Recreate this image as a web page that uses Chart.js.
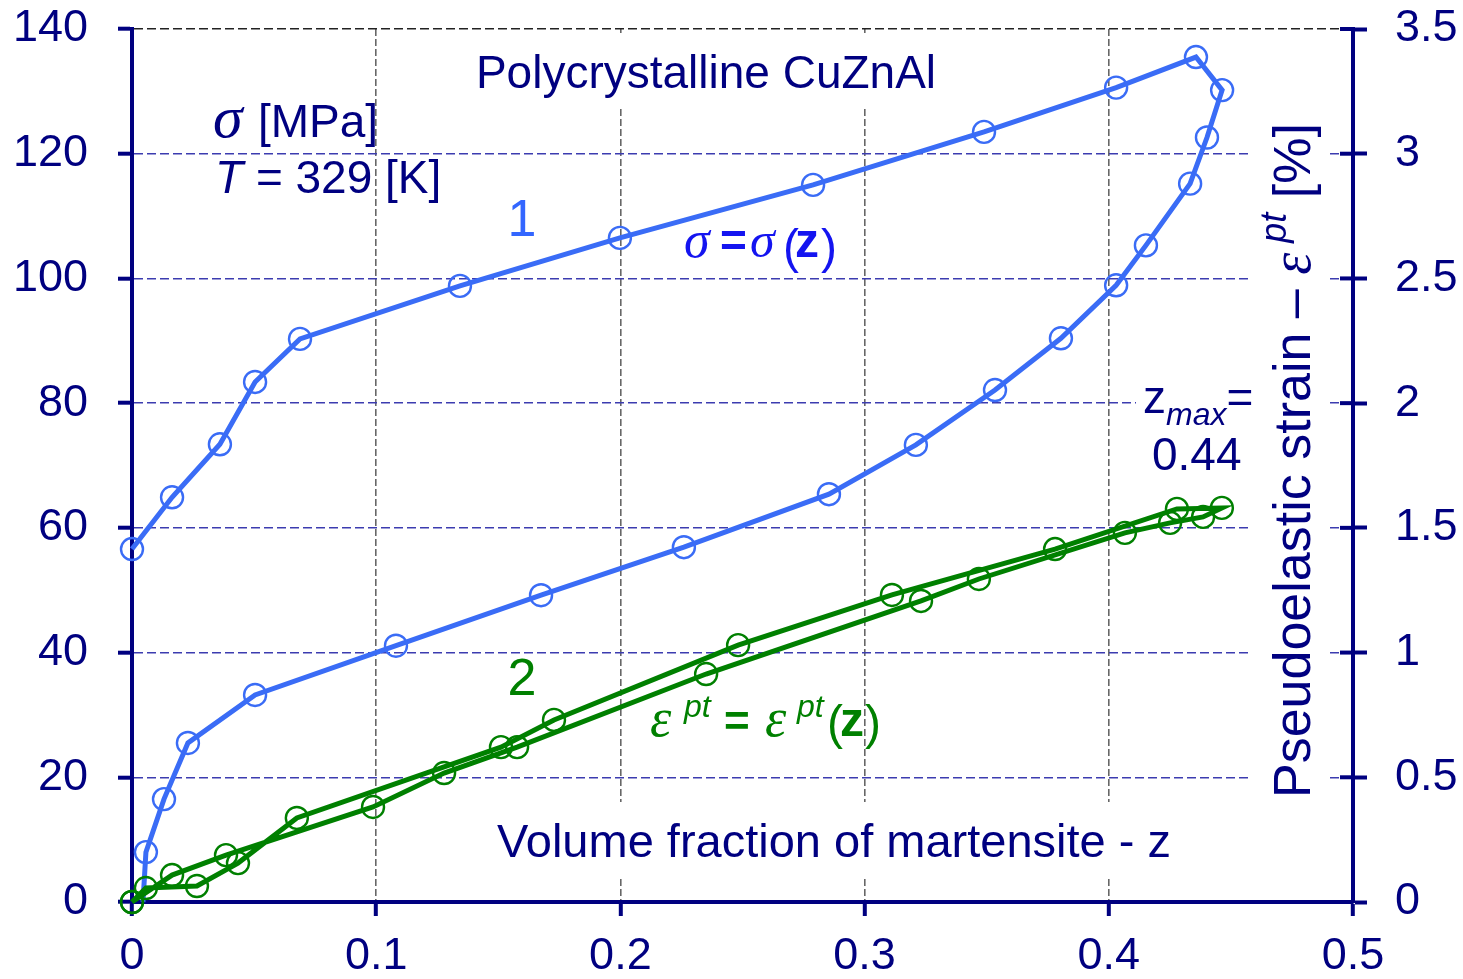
<!DOCTYPE html>
<html>
<head>
<meta charset="utf-8">
<title>Polycrystalline CuZnAl</title>
<script src="https://cdn.jsdelivr.net/npm/chart.js@4.4.0/dist/chart.umd.min.js"></script>
<style>
  html, body { margin: 0; padding: 0; background: #fff; }
  #wrap { width: 1463px; height: 979px; }
</style>
</head>
<body>
<div id="wrap"><canvas id="chart" width="1463" height="979"></canvas></div>
<script>
// curve 1: stress vs volume fraction of martensite (loading, then unloading)
const stressZ = [0, 0.0164, 0.036, 0.0504, 0.0688, 0.1343, 0.1998, 0.2789, 0.3489, 0.403, 0.4357, 0.4464,
                 0.4402, 0.4333, 0.4152, 0.403, 0.3804, 0.3534, 0.321, 0.2854, 0.226, 0.1675, 0.1081,
                 0.0504, 0.0229, 0.0131, 0.0057, 0.0045];
const stressMPa = [56.6, 64.9, 73.4, 83.4, 90.3, 98.8, 106.5, 115.0, 123.5, 130.6, 135.5, 130.2,
                   122.6, 115.2, 105.3, 98.9, 90.4, 82.1, 73.3, 65.4, 56.9, 49.2, 41.1,
                   33.2, 25.5, 16.5, 8.0, 0];

// curve 2: pseudoelastic strain [%] vs volume fraction (closed loop from the origin)
const strainZ = [0, 0.0164, 0.0385, 0.0987, 0.1278, 0.1577, 0.2351, 0.3231, 0.3468, 0.4066, 0.4251, 0.4386, 0.4463,
                 0.4279, 0.378, 0.3112, 0.2482, 0.1728, 0.1511, 0.0675, 0.0434, 0.0266, 0.0057, 0];
const strainPct = [0, 0.108, 0.188, 0.381, 0.517, 0.621, 0.914, 1.207, 1.295, 1.48, 1.52, 1.544, 1.58,
                   1.576, 1.415, 1.231, 1.03, 0.73, 0.621, 0.337, 0.156, 0.064, 0.056, 0];

const zTicks = [0, 0.1, 0.2, 0.3, 0.4, 0.5];
const zTickLabels = ['0', '0.1', '0.2', '0.3', '0.4', '0.5'];
const stressTicks = [0, 20, 40, 60, 80, 100, 120, 140];
const strainTicks = [0, 0.5, 1, 1.5, 2, 2.5, 3, 3.5];
const strainTickLabels = ['0', '0.5', '1', '1.5', '2', '2.5', '3', '3.5'];

const NAVY = '#000080';
const BLUE = '#3a6cf6';
const GREEN = '#008000';
const SANS = "'Liberation Sans', Arial, sans-serif";
const SERIF = "'Liberation Serif', 'Times New Roman', serif";

Chart.defaults.font.family = SANS;

function toPoints(xs, ys) {
    return xs.map((x, i) => ({ x: x, y: ys[i] }));
}

// text pieces; each piece either has its own x or follows the previous one
function drawRuns(ctx, x, y, parts) {
    parts.forEach(p => {
        if (p.x !== undefined) x = p.x;
        ctx.font = p.font;
        ctx.fillStyle = p.color;
        ctx.fillText(p.text, x, y + (p.dy || 0));
        x += ctx.measureText(p.text).width;
    });
    return x;
}

// vertical axes: fixed width, and no extra room above/below for the end labels
function fixWidth(w) {
    return s => {
        s.width = w;
        s.paddingTop = 0;
        s.paddingBottom = 0;
    };
}

const labelsPlugin = {
    id: 'labels',
    beforeDatasetsDraw(chart) {
        const ctx = chart.ctx;
        ctx.save();
        ctx.textBaseline = 'alphabetic';
        ctx.textAlign = 'left';

        // white boxes behind the framed captions
        ctx.fillStyle = '#fff';
        ctx.fillRect(462, 33, 488, 76);
        ctx.fillRect(490, 802, 690, 75);
        ctx.fillRect(1136, 384, 113, 94);
        ctx.fillRect(1249, 40, 78, 850);

        ctx.textAlign = 'center';
        ctx.font = '46px ' + SANS;
        ctx.fillStyle = NAVY;
        ctx.fillText('Polycrystalline CuZnAl', 706, 88);
        ctx.textAlign = 'left';

        // units and temperature
        drawRuns(ctx, 213, 137, [{ text: 'σ', font: 'italic 60px ' + SERIF, color: NAVY }]);
        drawRuns(ctx, 258, 137, [{ text: '[MPa]', font: '46px ' + SANS, color: NAVY }]);
        drawRuns(ctx, 215, 193, [
            { text: 'T', font: 'italic 46px ' + SANS, color: NAVY },
            { text: ' = 329 [K]', font: '46px ' + SANS, color: NAVY }
        ]);

        // curve numbers
        ctx.textAlign = 'center';
        ctx.font = '52px ' + SANS;
        ctx.fillStyle = '#3366ff';
        ctx.fillText('1', 522, 236);
        ctx.fillStyle = GREEN;
        ctx.fillText('2', 522, 695);
        ctx.textAlign = 'left';

        const eqBlue = '#1414f0';
        drawRuns(ctx, 684, 257, [
            { text: 'σ', font: 'italic 52px ' + SERIF, color: eqBlue, x: 684 },
            { text: '=', font: 'bold 46px ' + SANS, color: eqBlue, x: 720, dy: -1 },
            { text: 'σ', font: 'italic 50px ' + SERIF, color: eqBlue, x: 750 },
            { text: '(', font: '48px ' + SANS, color: eqBlue, x: 783, dy: 6 },
            { text: 'z', font: 'bold 48px ' + SANS, color: eqBlue, x: 795 },
            { text: ')', font: '48px ' + SANS, color: eqBlue, x: 821, dy: 6 }
        ]);

        drawRuns(ctx, 650, 736, [
            { text: 'ε', font: 'italic 54px ' + SERIF, color: GREEN, x: 650 },
            { text: 'pt', font: 'italic 32px ' + SANS, color: GREEN, x: 684, dy: -19 },
            { text: '=', font: 'bold 44px ' + SANS, color: GREEN, x: 724 },
            { text: 'ε', font: 'italic 54px ' + SERIF, color: GREEN, x: 765 },
            { text: 'pt', font: 'italic 32px ' + SANS, color: GREEN, x: 797, dy: -19 },
            { text: '(', font: '48px ' + SANS, color: GREEN, x: 827, dy: 3 },
            { text: 'z', font: 'bold 48px ' + SANS, color: GREEN, x: 840 },
            { text: ')', font: '48px ' + SANS, color: GREEN, x: 865, dy: 3 }
        ]);

        // maximum fraction reached
        drawRuns(ctx, 1143, 413, [
            { text: 'z', font: '46px ' + SANS, color: NAVY },
            { text: 'max', font: 'italic 32px ' + SANS, color: NAVY, dy: 12 },
            { text: '=', font: '46px ' + SANS, color: NAVY }
        ]);
        ctx.font = '46px ' + SANS;
        ctx.fillText('0.44', 1152, 470);

        ctx.font = '47px ' + SANS;
        ctx.fillText('Volume fraction of martensite - z', 497, 857);

        // right axis title, rotated
        ctx.translate(1310, 798);
        ctx.rotate(-Math.PI / 2);
        drawRuns(ctx, 0, 0, [
            { text: 'Pseudoelastic strain – ', font: '52px ' + SANS, color: NAVY },
            { text: 'ε', font: 'italic 56px ' + SERIF, color: NAVY },
            { text: ' pt', font: 'italic 36px ' + SANS, color: NAVY, dy: -24 },
            { text: ' [%]', font: '52px ' + SANS, color: NAVY }
        ]);
        ctx.restore();
    },
    afterDraw(chart) {
        // inner half of the crossing ticks on the strain axis
        const s = chart.scales.y2;
        const ctx = chart.ctx;
        ctx.save();
        ctx.strokeStyle = NAVY;
        ctx.lineWidth = 4;
        s.ticks.forEach(t => {
            const y = s.getPixelForValue(t.value);
            ctx.beginPath();
            ctx.moveTo(s.left - 13, y);
            ctx.lineTo(s.left, y);
            ctx.stroke();
        });
        ctx.restore();
    }
};

new Chart(document.getElementById('chart'), {
    type: 'scatter',
    data: {
        datasets: [
            {
                data: toPoints(strainZ, strainPct),
                yAxisID: 'y2',
                showLine: true,
                borderColor: GREEN,
                borderWidth: 5,
                tension: 0,
                pointRadius: 11,
                pointBorderWidth: 2.4,
                pointBorderColor: GREEN,
                pointBackgroundColor: 'rgba(0,0,0,0)',
                clip: false
            },
            {
                data: toPoints(stressZ, stressMPa),
                yAxisID: 'y',
                showLine: true,
                borderColor: BLUE,
                borderWidth: 5,
                tension: 0,
                pointRadius: ctx => ctx.dataIndex === stressZ.length - 1 ? 0 : 11,
                pointBorderWidth: 2.4,
                pointBorderColor: BLUE,
                pointBackgroundColor: 'rgba(0,0,0,0)',
                clip: false
            }
        ]
    },
    options: {
        responsive: false,
        animation: false,
        events: [],
        layout: { padding: { top: 29, left: 0, right: 0, bottom: 0 } },
        plugins: {
            legend: { display: false },
            tooltip: { enabled: false }
        },
        scales: {
            x: {
                type: 'linear',
                min: 0,
                max: 0.5,
                afterBuildTicks: s => { s.ticks = zTicks.map(v => ({ value: v })); },
                afterFit: s => { s.height = 77; },
                ticks: {
                    callback: (v, i) => zTickLabels[i],
                    color: NAVY,
                    font: { size: 45 },
                    padding: 14,
                    maxRotation: 0,
                    autoSkip: false
                },
                grid: {
                    color: ctx => (ctx.index > 0 && ctx.index < zTicks.length - 1) ? '#666666' : 'rgba(0,0,0,0)',
                    lineWidth: 1.6,
                    tickColor: NAVY,
                    tickWidth: 4,
                    tickLength: 14,
                    tickBorderDash: []
                },
                border: { color: NAVY, width: 4, dash: [7, 3] }
            },
            y: {
                position: 'left',
                min: 0,
                max: 140,
                afterBuildTicks: s => { s.ticks = stressTicks.map(v => ({ value: v })); },
                afterFit: fixWidth(132),
                ticks: {
                    callback: (v, i) => String(stressTicks[i]),
                    color: NAVY,
                    font: { size: 45 },
                    padding: 30
                },
                grid: {
                    color: ctx => ctx.index === stressTicks.length - 1 ? '#222222'
                        : (ctx.index === 0 ? 'rgba(0,0,0,0)' : '#3c3cb0'),
                    lineWidth: 1.4,
                    tickColor: NAVY,
                    tickWidth: 4,
                    tickLength: 14,
                    tickBorderDash: []
                },
                border: { color: NAVY, width: 4, dash: [9, 4] }
            },
            y2: {
                position: 'right',
                min: 0,
                max: 3.5,
                afterBuildTicks: s => { s.ticks = strainTicks.map(v => ({ value: v })); },
                afterFit: fixWidth(110),
                ticks: {
                    callback: (v, i) => strainTickLabels[i],
                    color: NAVY,
                    font: { size: 45 },
                    padding: 28
                },
                grid: {
                    drawOnChartArea: false,
                    tickColor: NAVY,
                    tickWidth: 4,
                    tickLength: 14
                },
                border: { color: NAVY, width: 4 }
            }
        }
    },
    plugins: [labelsPlugin]
});
</script>
</body>
</html>
